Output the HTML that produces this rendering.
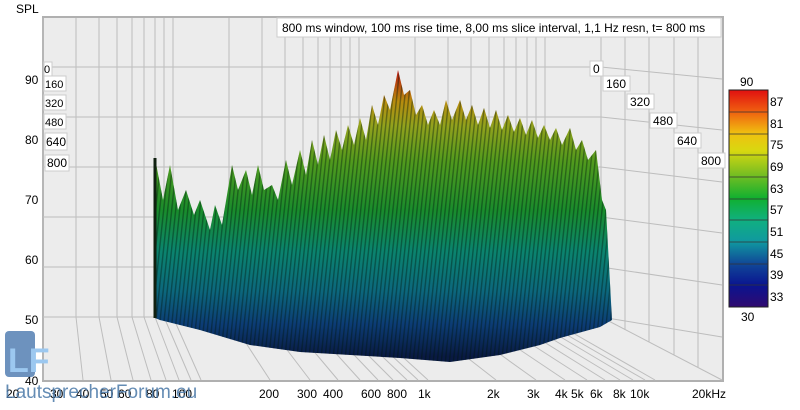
<!DOCTYPE html>
<html><head><meta charset="utf-8"><style>
body{margin:0;background:#fff;width:800px;height:405px;overflow:hidden;font-family:"Liberation Sans",sans-serif}
svg text{font-family:"Liberation Sans",sans-serif;font-size:12px;fill:#000}
</style></head><body>
<svg width="800" height="405" xmlns="http://www.w3.org/2000/svg">
<defs>
<linearGradient id="g" x1="0" y1="0" x2="0" y2="405" gradientUnits="userSpaceOnUse">
<stop offset="0.17" stop-color="#c81010"/>
<stop offset="0.25" stop-color="#c89810"/>
<stop offset="0.31" stop-color="#a0b020"/>
<stop offset="0.40" stop-color="#58a820"/>
<stop offset="0.52" stop-color="#1c9830"/>
<stop offset="0.62" stop-color="#0c9078"/>
<stop offset="0.72" stop-color="#0e7088"/>
<stop offset="0.80" stop-color="#0e4280"/>
<stop offset="0.88" stop-color="#0a1c48"/>
</linearGradient>
<linearGradient id="cb" x1="0" y1="0" x2="0" y2="1">
<stop offset="0" stop-color="#e01010"/><stop offset="0.1" stop-color="#f06010"/>
<stop offset="0.2" stop-color="#f0c010"/><stop offset="0.28" stop-color="#d8d810"/>
<stop offset="0.38" stop-color="#80c020"/><stop offset="0.5" stop-color="#10b030"/>
<stop offset="0.6" stop-color="#10b080"/><stop offset="0.7" stop-color="#1098a0"/>
<stop offset="0.8" stop-color="#104898"/><stop offset="0.9" stop-color="#0a1490"/>
<stop offset="1" stop-color="#300a70"/>
</linearGradient>
<pattern id="st" width="4" height="10" patternUnits="userSpaceOnUse" patternTransform="rotate(6)">
<rect x="0" y="0" width="1.4" height="10" fill="#001a10" opacity="0.4"/>
</pattern>
<path id="sp" d="M155,318L155,158L163,200L170,165L178,210L186,190L194,215L200,200L210,230L215,205L222,225L232,165L238,190L246,170L252,195L258,165L264,190L272,185L278,200L286,160L292,185L300,150L306,175L312,140L318,165L324,135L330,160L336,130L342,150L348,125L354,145L360,118L366,140L372,105L378,125L384,95L390,110L398,70L404,95L410,90L416,115L422,105L428,125L434,110L440,125L446,100L452,120L460,100L466,120L472,105L478,125L484,108L490,128L496,110L502,130L508,115L514,132L520,118L526,135L532,120L538,138L544,125L550,140L556,128L562,145L570,128L576,150L582,140L588,160L596,150L602,200L606,210L612,320L600,327L560,338L540,345L500,355L450,362L400,358L300,352L250,345L200,330L160,320Z"/>
</defs>
<text x="16" y="13">SPL</text>
<rect x="43" y="17" width="680" height="364" fill="#ececec" stroke="#b0b0b0" stroke-width="2"/>
<g stroke="#bdbdbd" stroke-width="1" fill="none">
<path d="M43,18V317M76,18V317M99,18V317M117,18V317M132,18V317M144,18V317M155,18V317M164,18V317M173,18V317M229,18V317M262,18V317M285,18V317M303,18V317M318,18V317M330,18V317M341,18V317M350,18V317M359,18V317M415,18V317M448,18V317M471,18V317M489,18V317M504,18V317M516,18V317M527,18V317M536,18V317M545,18V317M601,18V317"/>
<path d="M43,317L43,380M76,317L83,380M99,317L111,380M117,317L133,380M132,317L151,380M144,317L166,380M155,317L179,380M164,317L191,380M173,317L201,380M229,317L270,380M262,317L310,380M285,317L338,380M303,317L360,380M318,317L378,380M330,317L393,380M341,317L407,380M350,317L418,380M359,317L428,380M415,317L496,380M448,317L536,380M471,317L565,380M489,317L587,380M504,317L605,380M516,317L620,380M527,317L633,380M536,317L645,380M545,317L655,380M601,317L722,380"/>
<path d="M43,67H601L722,79M43,117H601L722,130M43,167H601L722,182M43,217H601L722,233M43,267H601L722,285M43,317H601L722,337"/>
<path d="M601,18V317M625,18V330M649,18V342M674,18V355M698,18V367"/>
</g>
<use href="#sp" fill="url(#g)"/>
<use href="#sp" fill="url(#st)"/>
<use href="#sp" fill="#000" opacity="0.08"/>
<path d="M155,158L155,318" stroke="#102010" stroke-width="3"/>
<rect x="277" y="18" width="444" height="19" fill="#fff" stroke="#ccc"/>
<text x="282" y="32">800 ms window, 100 ms rise time, 8,00 ms slice interval, 1,1 Hz resn, t= 800 ms</text>
<g fill="#fff" stroke="#ccc">
<rect x="590" y="61" width="13" height="15"/><rect x="603" y="76" width="27" height="15"/>
<rect x="627" y="94" width="27" height="15"/><rect x="650" y="113" width="27" height="15"/>
<rect x="674" y="133" width="27" height="15"/><rect x="698" y="153" width="27" height="15"/>
<rect x="44" y="62" width="8" height="14"/><rect x="44" y="76" width="22" height="15"/>
<rect x="44" y="95" width="22" height="15"/><rect x="44" y="114" width="22" height="15"/>
<rect x="45" y="133" width="22" height="17"/><rect x="45" y="155" width="24" height="16"/>
</g>
<text x="593" y="73">0</text><text x="606" y="88">160</text><text x="630" y="106">320</text>
<text x="653" y="125">480</text><text x="677" y="145">640</text><text x="701" y="165">800</text>
<text x="44" y="73" style="font-size:11px">0</text><text x="45" y="88" style="font-size:11px">160</text>
<text x="45" y="107" style="font-size:11px">320</text><text x="45" y="126" style="font-size:11px">480</text>
<text x="46" y="146">640</text><text x="47" y="167">800</text>
<text x="25" y="84">90</text><text x="25" y="144">80</text><text x="25" y="204">70</text>
<text x="25" y="264">60</text><text x="25" y="324">50</text><text x="25" y="385">40</text>
<g>
<text x="6" y="398">20</text><text x="50" y="398">30</text><text x="76" y="398">40</text>
<text x="100" y="398">50</text><text x="118" y="398">60</text><text x="146" y="398">80</text>
<text x="172" y="398">100</text><text x="259" y="398">200</text><text x="297" y="398">300</text>
<text x="323" y="398">400</text><text x="361" y="398">600</text><text x="387" y="398">800</text>
<text x="418" y="398">1k</text><text x="487" y="398">2k</text><text x="527" y="398">3k</text>
<text x="555" y="398">4k</text><text x="571" y="398">5k</text><text x="590" y="398">6k</text>
<text x="613" y="398">8k</text><text x="630" y="398">10k</text><text x="692" y="398">20kHz</text>
</g>
<rect x="729" y="90" width="39" height="217" fill="url(#cb)" stroke="#222"/>
<g stroke="#333" stroke-width="0.8">
<path d="M729,112H768M729,134H768M729,155H768M729,177H768M729,199H768M729,220H768M729,242H768M729,264H768M729,285H768"/>
</g>
<text x="740" y="86">90</text><text x="741" y="321">30</text>
<text x="770" y="106">87</text><text x="770" y="128">81</text><text x="770" y="149">75</text>
<text x="770" y="171">69</text><text x="770" y="193">63</text><text x="770" y="214">57</text>
<text x="770" y="236">51</text><text x="770" y="258">45</text><text x="770" y="279">39</text>
<text x="770" y="301">33</text>
<rect x="5" y="331" width="30" height="46" rx="4" fill="#3c6ea8" opacity="0.75"/>
<text x="8" y="372" style="font-size:34px;fill:#9cc8f0;font-weight:bold">LF</text>
<text x="5" y="398" style="font-size:19px;fill:#4a78a8;opacity:.85">LautsprecherForum.eu</text>
</svg>
</body></html>
